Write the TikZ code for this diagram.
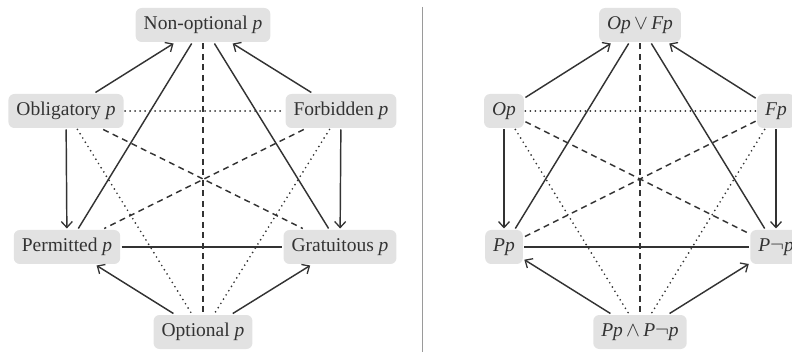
\documentclass[tikz,border=0pt]{standalone}
\usepackage{fontspec}
\setmainfont{Liberation Serif}
\usetikzlibrary{arrows.meta}
\definecolor{boxfill}{HTML}{E2E2E2}
\definecolor{ink}{HTML}{333333}
\definecolor{rule}{HTML}{9A9A9A}
\tikzset{
  stmt/.style={fill=boxfill, rounded corners=6pt, inner xsep=8pt, inner ysep=0pt,
    minimum height=34pt, text=ink, font=\fontsize{19.5}{22}\selectfont, outer sep=1.5pt},
  link/.style={draw=ink, line width=1.45pt},
  implies/.style={link, -{Straight Barb[length=6pt,width=11pt,line width=1.3pt]}},
  contra/.style={link, dash pattern=on 6pt off 4.5pt},
  subc/.style={link, line width=1.9pt, dash pattern=on 0pt off 5pt, line cap=round},
}
\newcommand{\ip}{\textit{p}}
\begin{document}
\begin{tikzpicture}[x=1pt, y=-1pt]
\useasboundingbox (0,0) rectangle (792,355);

% divider between the two hexagons
\draw[rule, line width=1.3pt] (422.7,7) -- (422.7,352);

% ---- hexagon in words ----
\begin{scope}
\node[stmt] (no) at (203,25) {Non-optional \ip};
\node[stmt] (ob) at (66,111) {Obligatory \ip};
\node[stmt] (fo) at (341,111) {Forbidden \ip};
\node[stmt] (pe) at (67,247) {Permitted \ip};
\node[stmt] (gr) at (340,247) {Gratuitous \ip};
\node[stmt] (op) at (203,332) {Optional \ip};

\draw[implies] (ob) -- (no);
\draw[implies] (fo) -- (no);
\draw[implies] (ob) -- (pe);
\draw[implies] (fo) -- (gr);
\draw[implies] (op) -- (pe);
\draw[implies] (op) -- (gr);
\draw[link] (no) -- (pe);
\draw[link] (no) -- (gr);
\draw[link] (pe) -- (gr);
\draw[contra] (no) -- (op);
\draw[contra] (ob) -- (gr);
\draw[contra] (fo) -- (pe);
\draw[subc] (ob) -- (fo);
\draw[subc] (ob) -- (op);
\draw[subc] (fo) -- (op);
\end{scope}

% ---- hexagon in formulas ----
\begin{scope}
\node[stmt] (rno) at (640,25) {\textit{Op}\,$\vee$\,\textit{Fp}};
\node[stmt] (rob) at (504,111) {\textit{Op}};
\node[stmt] (rfo) at (776,111) {\textit{Fp}};
\node[stmt] (rpe) at (504,247) {\textit{Pp}};
\node[stmt] (rgr) at (776,247) {\textit{P}$\neg$\textit{p}};
\node[stmt] (rop) at (640,332) {\textit{Pp}\,$\wedge$\,\textit{P}$\neg$\textit{p}};

\draw[implies] (rob) -- (rno);
\draw[implies] (rfo) -- (rno);
\draw[implies] (rob) -- (rpe);
\draw[implies] (rfo) -- (rgr);
\draw[implies] (rop) -- (rpe);
\draw[implies] (rop) -- (rgr);
\draw[link] (rno) -- (rpe);
\draw[link] (rno) -- (rgr);
\draw[link] (rpe) -- (rgr);
\draw[contra] (rno) -- (rop);
\draw[contra] (rob) -- (rgr);
\draw[contra] (rfo) -- (rpe);
\draw[subc] (rob) -- (rfo);
\draw[subc] (rob) -- (rop);
\draw[subc] (rfo) -- (rop);
\end{scope}
\end{tikzpicture}
\end{document}
